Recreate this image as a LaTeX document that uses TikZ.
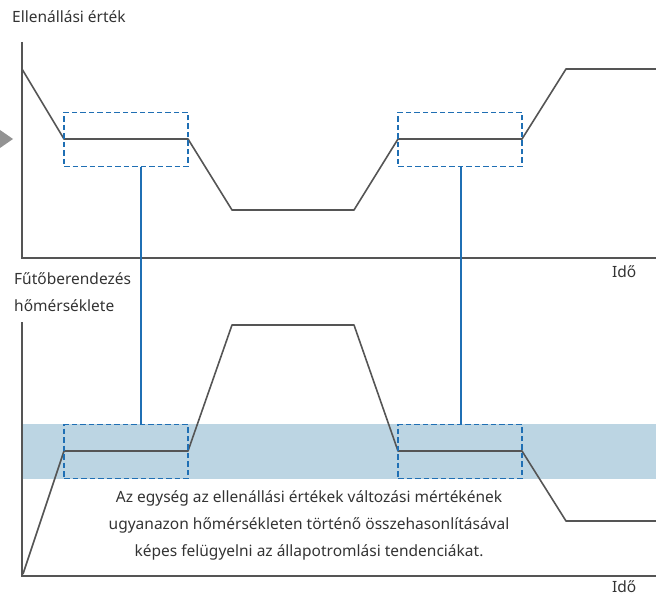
\documentclass[tikz,border=0pt]{standalone}
\usepackage{fontspec}
\setmainfont{Noto Sans}
\usepackage{xcolor}
\usetikzlibrary{positioning,calc}
\definecolor{curvegray}{HTML}{555555}
\definecolor{txtgray}{HTML}{333333}
\definecolor{linkblue}{HTML}{1F6FB4}
\definecolor{bandblue}{HTML}{BCD5E3}
\tikzset{
  axis/.style={draw=curvegray, line width=1.6pt},
  curve/.style={draw=curvegray, line width=1.6pt, line join=round},
  zone/.style={draw=linkblue, line width=1.6pt, dash pattern=on 5.5pt off 3pt,
    minimum width=124pt, minimum height=54pt, inner sep=0pt},
  link/.style={draw=linkblue, line width=1.6pt},
  lbl/.style={text=txtgray, font=\fontsize{15.5}{19}\selectfont, inner sep=0pt},
}
\begin{document}
\begin{tikzpicture}[x=1pt, y=-1pt]
\useasboundingbox (0,0) rectangle (656,599);
\clip (0,0) rectangle (656,599);
% resistance axes
\coordinate (o1) at (22,258);
\coordinate (y1) at (22,42);
\coordinate (x1) at (660,258);
% temperature axes
\coordinate (o2) at (22,576);
\coordinate (y2) at (22,322);
\coordinate (x2) at (660,576);
% shaded band
\fill[bandblue] (22,424) rectangle (660,479);
\draw[axis] (y1) -- (o1) -- (x1);
\draw[axis] (y2) -- (o2) -- (x2);
\fill[gray!85] (0,130) -- (13,139) -- (0,148) -- cycle;
% curves
\draw[curve] (22,69) -- (64,139) -- (188,139) -- (232,210) -- (354,210) -- (398,139) -- (522,139) -- (566,69) -- (660,69);
\draw[curve] (23,574) -- (64,451) -- (188,451) -- (232,325) -- (354,325) -- (398,451) -- (522,451) -- (566,521) -- (660,521);
% compare zones
\node[zone] (za) at (126,139.5) {};
\node[zone] (zb) at (460,139.5) {};
\node[zone] (zc) at (126,451.5) {};
\node[zone] (zd) at (460,451.5) {};
\coordinate (la) at (141,0);
\coordinate (lb) at (461,0);
\draw[link] (za.south -| la) -- (zc.north -| la);
\draw[link] (zb.south -| lb) -- (zd.north -| lb);
% labels
\node[lbl, anchor=west] (res) at (12,17) {Ellenállási érték};
\node[lbl, anchor=west] (heat) at (14,279) {Fűtőberendezés};
\node[lbl, anchor=west] (temp) at (14,306) {hőmérséklete};
\node[lbl, anchor=west] (t1) at (612,272) {Idő};
\node[lbl, anchor=west] (t2) at (612,587) {Idő};
\node[lbl, align=center, font=\fontsize{15.5}{27}\selectfont] (note) at (309,525)
  {Az egység az ellenállási értékek változási mértékének\\
   ugyanazon hőmérsékleten történő összehasonlításával\\
   képes felügyelni az állapotromlási tendenciákat.};
\end{tikzpicture}
\end{document}
